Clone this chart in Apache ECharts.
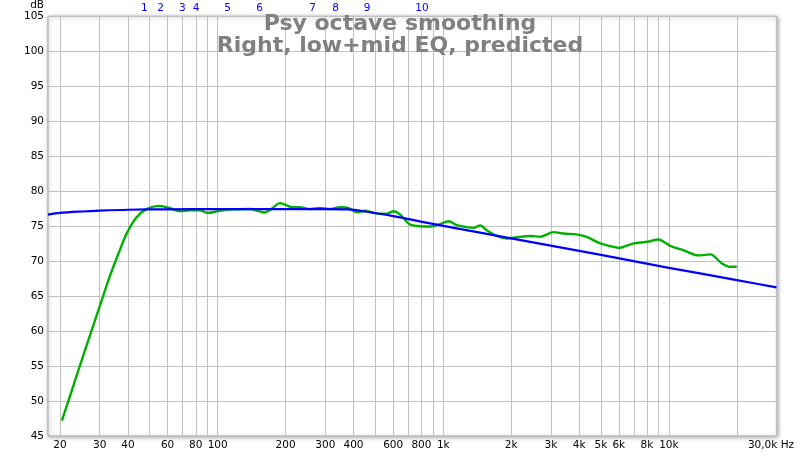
<!DOCTYPE html>
<html>
<head>
<meta charset="utf-8">
<script src="https://cdn.jsdelivr.net/npm/echarts@6/dist/echarts.min.js"></script>
<style>html,body{margin:0;padding:0;background:#fff}#c{width:800px;height:457px}</style>
</head>
<body>
<div id="c"></div>
<script>
// ---- data ----
const xMinHz = 17.7;
const xMaxHz = 30000;
const gridHz = [20,30,40,50,60,70,80,90,100,200,300,400,500,600,700,800,900,1000,2000,3000,4000,5000,6000,7000,8000,9000,10000,20000,30000];
const labelHz = [20,30,40,60,80,100,200,300,400,600,800,1000,2000,3000,4000,5000,6000,8000,10000,30000];
const labelText = ['20','30','40','60','80','100','200','300','400','600','800','1k','2k','3k','4k','5k','6k','8k','10k','30,0k Hz'];
const markerHz = [47.3,55.8,69.8,80.3,110.6,153.6,263.4,333,460,805];
const markerText = ['1','2','3','4','5','6','7','8','9','10'];

const measuredHz = [20.4,24.4,27.5,29.9,33.1,36.7,39.3,43.5,48.2,55.2,61.2,67.8,75.1,83.2,90.6,102,117,140,150,162,172,189,200,215,231,256,284,314,348,379,414,450,508,563,602,643,713,790,875,968,1055,1151,1271,1360,1458,1563,1730,1920,2120,2440,2700,3080,3410,3940,4350,5000,5690,5990,6990,8030,8980,10200,11650,13500,15300,17000,18600,20000];
const measuredDb = [47.2,54.85,59.9,63.4,67.65,71.45,73.8,76.2,77.4,77.9,77.6,77.13,77.27,77.27,76.9,77.2,77.4,77.45,77.2,76.95,77.4,78.3,78.05,77.7,77.7,77.45,77.6,77.45,77.7,77.6,77.0,77.2,76.8,76.8,77.13,76.67,75.24,75.0,74.95,75.3,75.7,75.14,74.86,74.76,75.1,74.4,73.6,73.25,73.43,73.6,73.5,74.15,73.96,73.8,73.43,72.5,72.05,71.9,72.54,72.77,73.1,72.15,71.55,70.83,70.97,69.8,69.2,69.2];

const predictedHz = [17.7,20,25,30,40,60,100,200,300,380,450,600,875,1000,2000,5000,10000,20000,30000];
const predictedDb = [76.65,76.9,77.1,77.22,77.35,77.42,77.45,77.45,77.45,77.4,77.1,76.45,75.4,75.05,73.25,70.9,69.05,67.3,66.25];

const titleLines = ['Psy octave smoothing','Right, low+mid EQ, predicted'];

// ---- chart ----
const lg = v => Math.log10(v);
const nearestIdx = (arr, v) => {
  let best = 0, bd = Infinity;
  arr.forEach((a, i) => { const d = Math.abs(lg(a) - v); if (d < bd) { bd = d; best = i; } });
  return best;
};
const font = 'DejaVu Sans';
const chart = echarts.init(document.getElementById('c'), null, {renderer: 'canvas'});
chart.setOption({
  animation: false,
  title: [
    {text: titleLines[0], left: 'center', top: 13, padding: 0,
     textStyle: {fontFamily: font, fontSize: 22, fontWeight: 'bold', color: '#808080'}},
    {text: titleLines[1], left: 'center', top: 35, padding: 0,
     textStyle: {fontFamily: font, fontSize: 22, fontWeight: 'bold', color: '#808080'}}
  ],
  grid: {
    left: 48, right: 23.5, top: 14, bottom: 21, show: true,
    backgroundColor: '#ffffff', borderColor: '#a0a0a0', borderWidth: 1,
    shadowBlur: 4, shadowColor: 'rgba(0,0,0,0.35)', shadowOffsetX: 1, shadowOffsetY: 1
  },
  xAxis: [
    {
      type: 'value', min: lg(xMinHz), max: lg(xMaxHz),
      axisLine: {show: false},
      axisTick: {show: false, customValues: gridHz.map(lg)},
      splitLine: {show: true, lineStyle: {color: '#c0c0c0', width: 1}},
      axisLabel: {
        customValues: labelHz.map(lg), margin: 4,
        fontFamily: font, fontSize: 10.5, color: '#000',
        formatter: v => {
          const i = nearestIdx(labelHz, v);
          return i === labelHz.length - 1 ? '{hz|' + labelText[i] + '}' : labelText[i];
        },
        rich: {hz: {fontFamily: font, fontSize: 10.5, color: '#000', padding: [0, 11, 0, 0]}}
      }
    },
    {
      type: 'value', position: 'top', min: lg(xMinHz), max: lg(xMaxHz),
      axisLine: {show: false}, axisTick: {show: false}, splitLine: {show: false},
      axisLabel: {
        customValues: markerHz.map(lg), margin: 3,
        fontFamily: font, fontSize: 10.5, color: '#0000ff',
        formatter: v => markerText[nearestIdx(markerHz, v)]
      }
    }
  ],
  yAxis: {
    type: 'value', min: 45, max: 105, interval: 5,
    name: 'dB', nameLocation: 'end', nameGap: 9,
    nameTextStyle: {fontFamily: font, fontSize: 10.5, color: '#000', align: 'right', verticalAlign: 'middle', padding: [0, 4, 0, 0]},
    axisLine: {show: false}, axisTick: {show: false},
    splitLine: {show: true, lineStyle: {color: '#c0c0c0', width: 1}},
    axisLabel: {margin: 4, fontFamily: font, fontSize: 10.5, color: '#000'}
  },
  series: [
    {
      type: 'line', xAxisIndex: 0, symbol: 'none', smooth: 0.3,
      data: measuredHz.map((h, i) => [lg(h), measuredDb[i]]),
      lineStyle: {color: '#00b000', width: 2.4}
    },
    {
      type: 'line', xAxisIndex: 0, symbol: 'none', smooth: 0.3,
      data: predictedHz.map((h, i) => [lg(h), predictedDb[i]]),
      lineStyle: {color: '#0000ff', width: 2.2}
    }
  ]
});
</script>
</body>
</html>
